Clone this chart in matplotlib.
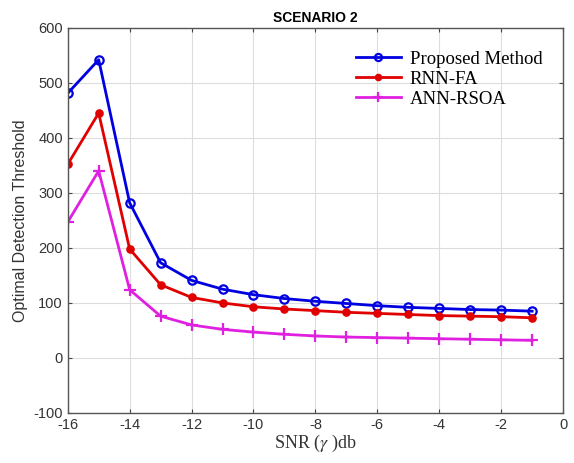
import matplotlib
matplotlib.use("Agg")
import matplotlib.pyplot as plt

snr = [-16, -15, -14, -13, -12, -11, -10, -9, -8, -7, -6, -5, -4, -3, -2, -1]
proposed = [481, 542, 282, 173, 141, 125, 115, 108, 103, 99, 95, 92, 90, 88, 87, 85]
rnn_fa = [352, 445, 198, 133, 110, 100, 93, 89, 86, 83, 81, 79, 77, 76, 75, 73]
ann_rsoa = [247, 340, 124, 76, 60, 52, 47, 43, 40, 38, 37, 36, 35, 34, 33, 32]

xticks = [-16, -14, -12, -10, -8, -6, -4, -2, 0]
yticks = [-100, 0, 100, 200, 300, 400, 500, 600]

plt.rcParams['font.family'] = ['Liberation Sans', 'DejaVu Sans']
plt.rcParams['axes.unicode_minus'] = False
plt.rcParams['mathtext.fontset'] = 'stix'

fig = plt.figure(figsize=(5.74, 4.63), dpi=100)
ax = fig.add_axes([0.118, 0.108, 0.863, 0.832])

ax.plot(snr, proposed, color='#0000e0', lw=2, marker='o', ms=6, mfc='none', mew=1.6,
        label='Proposed Method')
ax.plot(snr, rnn_fa, color='#e00000', lw=2, marker='o', ms=5, mfc='#e00000', mew=1.2,
        label='RNN-FA')
ax.plot(snr, ann_rsoa, color='#e020e0', lw=2, marker='+', ms=8, mew=1.6,
        label='ANN-RSOA')

ax.set_xlim(-16, 0)
ax.set_ylim(-100, 600)
ax.set_xticks(xticks)
ax.set_yticks(yticks)
ax.tick_params(direction='in', top=True, right=True, labelsize=10.5, colors='#444444',
               labelcolor='#333333', length=3)
ax.grid(True, color='#dddddd', lw=0.8)
ax.set_axisbelow(True)
for s in ax.spines.values():
    s.set_color('#555555')
    s.set_linewidth(1.0)

ax.set_title('SCENARIO 2', fontsize=10, fontweight='bold', pad=4)
ax.set_xlabel(r'SNR ($\gamma$ )db', family='Liberation Serif', fontsize=13, labelpad=1,
              color='#333333')
ax.set_ylabel('Optimal Detection Threshold', fontsize=11.5, color='#333333')

leg = ax.legend(loc='upper right', bbox_to_anchor=(0.985, 0.975), frameon=False,
                prop={'family': 'Liberation Serif', 'size': 13.5},
                handlelength=2.4, handletextpad=0.5, labelspacing=0.15,
                borderaxespad=0.3, markerscale=0.85)

fig.savefig('out.png', dpi=100)
